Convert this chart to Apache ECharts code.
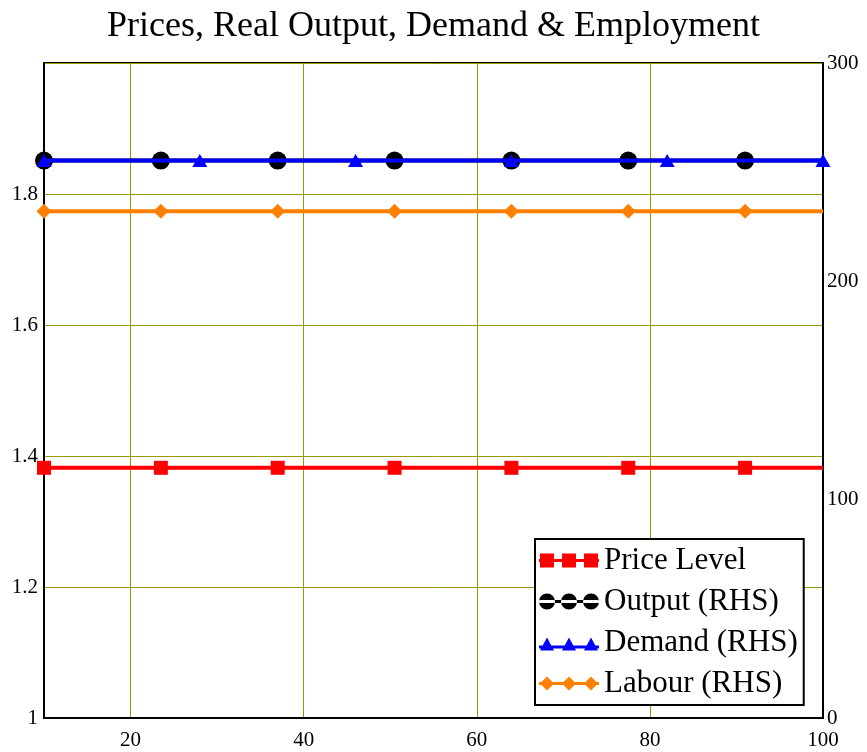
<!DOCTYPE html>
<html>
<head>
<meta charset="utf-8">
<script src="https://cdn.jsdelivr.net/npm/echarts@6/dist/echarts.min.js"></script>
<style>html,body{margin:0;padding:0;background:#fff}#c{width:867px;height:752px}</style>
</head>
<body>
<div id="c"></div>
<script>
const titleText = 'Prices, Real Output, Demand & Employment';
const seriesNames = ['Price Level', 'Output (RHS)', 'Demand (RHS)', 'Labour (RHS)'];
const xMarks = [10, 23.5, 37, 50.5, 64, 77.5, 91, 100];
const demandX = [10, 28, 46, 64, 82, 100];
const priceLevel = [1.382, 1.382, 1.382, 1.382, 1.382, 1.382, 1.382, 1.382];
const outputRHS = [255.3, 255.3, 255.3, 255.3, 255.3, 255.3, 255.3, 255.3];
const demandRHS = [255.3, 255.3, 255.3, 255.3, 255.3, 255.3];
const labourRHS = [232.1, 232.1, 232.1, 232.1, 232.1, 232.1, 232.1, 232.1];
const xTickLabels = [20, 40, 60, 80, 100];
const leftTickLabels = [1, 1.2, 1.4, 1.6, 1.8];
const rightTickLabels = [0, 100, 200, 300];

const FONT = "'Liberation Serif', 'Times New Roman', serif";
const GRID_COLOR = '#999900';

function pts(xs, ys, noLastMark) {
  return xs.map((x, i) => {
    const item = { value: [x, ys[i]] };
    if (noLastMark && i === xs.length - 1) item.symbol = 'none';
    return item;
  });
}

const icons = {
  square: 'path://M0 6.5H60V9.5H0Z M1 1H15V15H1Z M23 1H37V15H23Z M45 1H59V15H45Z M0 0H0.01V0.01H0Z M60 16H59.99V15.99H60Z',
  circle: 'path://M0 6.5H60V9.5H0Z M0 8A8 8 0 1 0 16 8A8 8 0 1 0 0 8Z M22 8A8 8 0 1 0 38 8A8 8 0 1 0 22 8Z M44 8A8 8 0 1 0 60 8A8 8 0 1 0 44 8Z',
  triangle: 'path://M0 11H60V14H0Z M1 16L8 3L15 16Z M23 16L30 3L37 16Z M45 16L52 3L59 16Z M0 0H0.01V0.01H0Z',
  diamond: 'path://M0 6.5H60V9.5H0Z M8 1L15 8L8 15L1 8Z M30 1L37 8L30 15L23 8Z M52 1L59 8L52 15L45 8Z M0 0H0.01V0.01H0Z M60 16H59.99V15.99H60Z'
};

const chart = echarts.init(document.getElementById('c'), null, { renderer: 'canvas' });
chart.setOption({
  animation: false,
  backgroundColor: '#fff',
  title: {
    text: titleText,
    left: 'center',
    top: 4,
    textStyle: { fontFamily: FONT, fontSize: 36, fontWeight: 'normal', color: '#000' }
  },
  grid: {
    left: 44, right: 44, top: 63, bottom: 34,
    show: true, borderColor: '#000', borderWidth: 2, backgroundColor: 'transparent'
  },
  legend: {
    orient: 'vertical',
    left: 535,
    top: 539,
    padding: [6, 6, 6, 4],
    itemGap: 10,
    itemWidth: 60,
    itemHeight: 16,
    backgroundColor: '#fff',
    borderColor: '#000',
    borderWidth: 2,
    borderRadius: 0,
    textStyle: { fontFamily: FONT, fontSize: 31, color: '#000', lineHeight: 30 },
    data: [
      { name: seriesNames[0], icon: icons.square },
      { name: seriesNames[1], icon: icons.circle },
      { name: seriesNames[2], icon: icons.triangle },
      { name: seriesNames[3], icon: icons.diamond }
    ]
  },
  xAxis: {
    type: 'value',
    min: 10, max: 100, interval: 10,
    axisLine: { show: true, lineStyle: { color: '#000', width: 2 } },
    axisTick: { show: false },
    axisLabel: {
      fontFamily: FONT, fontSize: 21, color: '#000', margin: 12,
      formatter: v => xTickLabels.indexOf(v) >= 0 ? String(v) : ''
    },
    splitLine: { show: true, lineStyle: { color: ['rgba(0,0,0,0)', GRID_COLOR], width: 1 } }
  },
  yAxis: [
    {
      type: 'value',
      min: 1, max: 2, interval: 0.2,
      axisLine: { show: true, lineStyle: { color: '#000', width: 2 } },
      axisTick: { show: false },
      axisLabel: {
        fontFamily: FONT, fontSize: 21, color: '#000', margin: 6, padding: [6, 0, 0, 0],
        formatter: v => leftTickLabels.some(t => Math.abs(t - v) < 1e-9) ? String(+v.toFixed(1)) : ''
      },
      splitLine: { show: true, lineStyle: { color: GRID_COLOR, width: 1 } }
    },
    {
      type: 'value',
      min: 0, max: 300, interval: 100,
      position: 'right',
      axisLine: { show: true, lineStyle: { color: '#000', width: 2 } },
      axisTick: { show: false },
      axisLabel: {
        fontFamily: FONT, fontSize: 21, color: '#000', margin: 4, padding: [6, 0, 0, 0],
        formatter: v => rightTickLabels.indexOf(v) >= 0 ? String(v) : ''
      },
      splitLine: { show: false }
    }
  ],
  series: [
    {
      name: seriesNames[0], type: 'line', yAxisIndex: 0,
      data: pts(xMarks, priceLevel, true),
      symbol: 'rect', symbolSize: 14,
      lineStyle: { color: '#ff0000', width: 4 },
      itemStyle: { color: '#ff0000' },
      z: 2
    },
    {
      name: seriesNames[1], type: 'line', yAxisIndex: 1,
      data: pts(xMarks, outputRHS, true),
      symbol: 'circle', symbolSize: 18,
      lineStyle: { color: '#000', width: 4 },
      itemStyle: { color: '#000' },
      z: 3
    },
    {
      name: seriesNames[2], type: 'line', yAxisIndex: 1,
      data: pts(demandX, demandRHS, false),
      symbol: 'triangle', symbolSize: [15, 13],
      lineStyle: { color: '#0000ff', width: 4 },
      itemStyle: { color: '#0000ff' },
      z: 4
    },
    {
      name: seriesNames[3], type: 'line', yAxisIndex: 1,
      data: pts(xMarks, labourRHS, true),
      symbol: 'diamond', symbolSize: 15,
      lineStyle: { color: '#ff8000', width: 4 },
      itemStyle: { color: '#ff8000' },
      z: 5
    }
  ]
});
</script>
</body>
</html>
